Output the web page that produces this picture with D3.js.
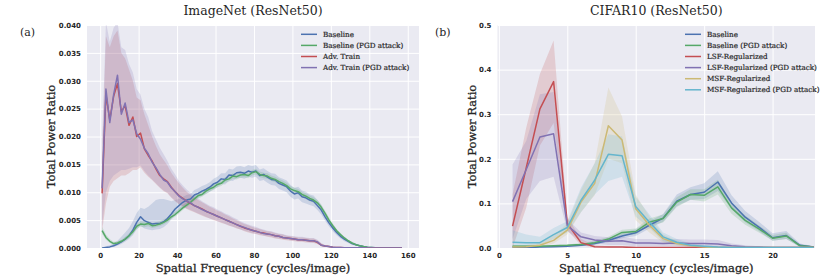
<!DOCTYPE html>
<html>
<head>
<meta charset="utf-8">
<script src="https://cdn.jsdelivr.net/npm/d3@7"></script>
<style>
body { margin: 0; background: #fff; }
</style>
</head>
<body>
<div id="chart"></div>
<script>
// ---- (a) ImageNet (ResNet50), every 2nd frequency, values in units of 1e-3 ----
var freqA = [1,3,5,7,9,11,13,15,17,19,
  21,23,25,27,29,31,33,35,37,39,
  41,43,45,47,49,51,53,55,57,59,
  61,63,65,67,69,71,73,75,77,79,
  81,83,85,87,89,91,93,95,97,99,
  101,103,105,107,109,111,113,115,117,119,
  121,123,125,127,129,131,133,135,137,139,
  141,143,145,147,149,151,153,155,157];

var baselineA = [0.0,0.1,0.2,0.4,0.7,1.1,1.6,2.2,3.2,4.6,
  5.6,4.9,4.6,4.3,4.4,4.4,4.7,5.3,6.1,7.0,
  7.6,8.2,8.6,8.8,9.5,9.8,10.2,10.5,10.9,11.5,
  11.8,12.4,12.3,13.1,13.0,13.5,13.6,13.4,13.8,13.6,
  13.8,13.0,13.2,12.7,12.3,12.2,11.6,11.3,11.0,10.2,
  9.7,9.9,9.2,9.0,8.6,8.4,7.6,6.8,5.6,4.5,
  3.6,2.8,2.1,1.6,1.2,0.8,0.6,0.4,0.25,0.15,
  0.1,0.05,0.03,0.02,0.01,0.01,0,0,0];
var baselineALo = [0,0.05,0.1,0.2,0.4,0.7,1.1,1.6,2.3,3.3,
  4.0,3.5,3.3,3.2,3.3,3.4,3.7,4.3,5.1,6.0,
  6.7,7.3,7.8,8.0,8.7,9.0,9.4,9.7,10.1,10.6,
  10.9,11.5,11.4,12.1,12.0,12.5,12.6,12.4,12.8,12.6,
  12.8,12.0,12.2,11.7,11.3,11.2,10.6,10.3,10.0,9.2,
  8.7,8.9,8.2,8.0,7.7,7.5,6.8,6.0,4.9,3.9,
  3.0,2.3,1.7,1.2,0.9,0.6,0.4,0.25,0.15,0.08,
  0.05,0.02,0.01,0,0,0,0,0,0];
var baselineAHi = [0.05,0.3,0.5,0.8,1.3,2.0,2.8,3.6,4.8,6.3,
  7.2,7.0,7.4,8.0,8.6,8.8,8.8,8.6,8.4,8.6,
  8.8,9.2,9.5,9.7,10.4,10.7,11.1,11.4,11.8,12.4,
  12.8,13.4,13.4,14.2,14.1,14.6,14.7,14.5,14.9,14.7,
  14.9,14.1,14.3,13.8,13.4,13.3,12.7,12.4,12.1,11.3,
  10.8,11.0,10.3,10.1,9.6,9.4,8.6,7.7,6.4,5.2,
  4.2,3.3,2.6,2.0,1.5,1.1,0.8,0.55,0.35,0.22,
  0.15,0.1,0.06,0.04,0.02,0.02,0.01,0.01,0.01];

var baselinePgdA = [3.1,1.9,1.2,0.8,0.9,1.2,1.6,2.2,2.9,3.9,
  4.3,4.2,4.4,4.0,4.1,4.3,4.6,5.0,5.6,6.0,
  6.6,7.2,7.7,8.2,8.8,9.4,9.6,10.2,10.6,10.9,
  11.4,11.6,12.2,12.4,12.9,12.8,13.1,13.2,13.0,13.5,
  13.7,13.2,13.0,12.9,12.5,12.3,11.9,11.6,11.2,10.6,
  10.3,10.1,9.6,9.3,8.9,8.6,8.1,7.3,6.2,5.0,
  4.0,3.1,2.4,1.8,1.3,0.9,0.6,0.4,0.25,0.15,
  0.1,0.06,0.04,0.02,0.01,0.01,0,0,0];
var baselinePgdALo = [2.5,1.5,0.9,0.6,0.7,0.9,1.3,1.8,2.5,3.4,
  3.8,3.7,3.9,3.6,3.7,3.9,4.2,4.6,5.2,5.6,
  6.2,6.8,7.3,7.8,8.4,8.9,9.2,9.7,10.1,10.4,
  10.9,11.1,11.7,11.9,12.4,12.3,12.6,12.7,12.5,13.0,
  13.2,12.7,12.5,12.4,12.0,11.8,11.4,11.1,10.7,10.1,
  9.8,9.6,9.1,8.8,8.4,8.1,7.6,6.8,5.7,4.6,
  3.6,2.8,2.1,1.6,1.1,0.8,0.5,0.3,0.2,0.1,
  0.07,0.04,0.02,0.01,0,0,0,0,0];
var baselinePgdAHi = [3.8,2.4,1.6,1.1,1.2,1.5,2.0,2.6,3.4,4.4,
  4.8,4.7,4.9,4.5,4.6,4.8,5.1,5.5,6.1,6.5,
  7.1,7.7,8.2,8.7,9.3,9.9,10.1,10.7,11.1,11.4,
  11.9,12.1,12.7,12.9,13.4,13.3,13.6,13.7,13.5,14.0,
  14.2,13.7,13.5,13.4,13.0,12.8,12.4,12.1,11.7,11.1,
  10.8,10.6,10.1,9.8,9.4,9.1,8.6,7.8,6.7,5.5,
  4.4,3.4,2.7,2.0,1.5,1.0,0.7,0.5,0.3,0.2,
  0.13,0.08,0.06,0.03,0.02,0.02,0.01,0.01,0.01];

var advA = [9.8,27.5,23.0,27.2,29.5,24.5,25.5,22.0,23.5,20.0,
  20.6,17.8,16.6,15.6,14.2,13.0,12.4,11.9,10.9,10.1,
  9.4,8.9,8.4,8.0,7.6,7.3,7.0,6.6,6.3,6.0,
  5.7,5.4,5.1,4.8,4.5,4.2,3.9,3.6,3.4,3.2,
  3.0,2.8,2.7,2.5,2.4,2.2,2.1,1.9,1.8,1.7,
  1.6,1.5,1.5,1.4,1.3,1.3,1.0,0.5,0.35,0.25,
  0.15,0.1,0.08,0.06,0.05,0.04,0.04,0.03,0.03,0.02,
  0.02,0.02,0.01,0.01,0.01,0.01,0,0,0];
var advALo = [3.0,8.0,11.0,12.0,12.5,13.0,13.0,13.4,14.0,14.0,
  14.5,13.5,12.8,12.2,11.5,10.8,10.2,9.8,9.0,8.4,
  7.8,7.4,7.0,6.7,6.4,6.1,5.8,5.5,5.3,5.0,
  4.8,4.5,4.3,4.0,3.8,3.5,3.3,3.0,2.8,2.6,
  2.5,2.3,2.2,2.0,1.9,1.7,1.6,1.5,1.4,1.3,
  1.2,1.1,1.1,1.0,1.0,0.9,0.7,0.3,0.2,0.15,
  0.1,0.06,0.05,0.04,0.03,0.02,0.02,0.02,0.01,0.01,
  0.01,0.01,0,0,0,0,0,0,0];
var advAHi = [17,38,36,38,39,35,34,32,30,27,
  26.5,24,22,20,18.3,16.8,15.8,14.8,13.5,12.5,
  11.6,10.8,10.1,9.5,9.0,8.6,8.2,7.8,7.4,7.1,
  6.7,6.4,6.0,5.7,5.3,5.0,4.6,4.3,4.1,3.8,
  3.6,3.4,3.2,3.0,2.9,2.7,2.5,2.4,2.2,2.1,
  2.0,1.9,1.9,1.8,1.7,1.7,1.4,0.8,0.5,0.35,
  0.25,0.18,0.14,0.1,0.08,0.07,0.06,0.05,0.05,0.04,
  0.04,0.03,0.03,0.02,0.02,0.02,0.01,0.01,0.01];

var advPgdA = [10.7,28.5,22.5,27.5,31.0,24.0,26.0,22.5,23.0,20.5,
  19.5,17.9,16.9,15.4,14.4,13.2,12.2,11.8,10.8,10.1,
  9.3,8.8,8.4,8.1,7.6,7.3,6.9,6.6,6.3,6.0,
  5.7,5.4,5.1,4.8,4.5,4.2,3.9,3.7,3.4,3.2,
  3.0,2.8,2.6,2.5,2.4,2.2,2.1,1.9,1.8,1.7,
  1.6,1.5,1.5,1.4,1.3,1.3,1.1,0.5,0.35,0.25,
  0.15,0.1,0.08,0.06,0.05,0.04,0.04,0.03,0.03,0.02,
  0.02,0.02,0.01,0.01,0.01,0.01,0,0,0];
var advPgdALo = [4.0,10.0,12.0,13.0,13.5,14.0,14.0,14.2,14.5,14.5,
  14.8,13.8,13.0,12.3,11.6,10.9,10.3,9.9,9.1,8.5,
  7.9,7.5,7.1,6.8,6.5,6.2,5.9,5.6,5.3,5.1,
  4.8,4.6,4.3,4.1,3.8,3.6,3.3,3.1,2.9,2.7,
  2.5,2.4,2.2,2.1,2.0,1.8,1.7,1.6,1.5,1.4,
  1.3,1.2,1.2,1.1,1.0,1.0,0.8,0.35,0.25,0.18,
  0.1,0.07,0.05,0.04,0.03,0.03,0.02,0.02,0.01,0.01,
  0.01,0.01,0,0,0,0,0,0,0];
var advPgdAHi = [19.0,40.5,37.0,39.5,40.5,36.0,35.5,33.0,31.5,28.5,
  27.5,25.0,23.5,21.0,19.5,18.0,16.8,15.6,14.2,13.2,
  12.0,11.2,10.5,9.9,9.3,8.9,8.4,8.0,7.6,7.3,
  6.9,6.6,6.2,5.9,5.5,5.2,4.8,4.5,4.2,4.0,
  3.8,3.5,3.3,3.1,3.0,2.8,2.6,2.5,2.3,2.2,
  2.1,2.0,2.0,1.9,1.8,1.8,1.5,0.9,0.55,0.4,
  0.28,0.2,0.15,0.11,0.09,0.07,0.06,0.05,0.05,0.04,
  0.04,0.03,0.03,0.02,0.02,0.02,0.01,0.01,0.01];

var labelsA = ['Baseline', 'Baseline (PGD attack)', 'Adv. Train', 'Adv. Train (PGD attack)'];
var xTicksA = [0, 20, 40, 60, 80, 100, 120, 140, 160];
var yTicksA = [0, 0.005, 0.010, 0.015, 0.020, 0.025, 0.030, 0.035, 0.040];

// ---- (b) CIFAR10 (ResNet50) ----
var freqB = [1,2,3,4,5,6,7,8,9,10,11,12,13,14,15,16,17,18,19,20,21,22,23];

var baselineB    = [0.001,0.001,0.002,0.003,0.004,0.006,0.010,0.017,0.027,0.034,0.051,0.067,0.105,0.120,0.125,0.148,0.101,0.069,0.047,0.023,0.028,0.006,0.002];
var baselineBLo  = [0,0,0.001,0.002,0.003,0.004,0.007,0.013,0.022,0.027,0.044,0.059,0.094,0.108,0.110,0.128,0.087,0.058,0.038,0.016,0.020,0.002,0];
var baselineBHi  = [0.002,0.003,0.004,0.005,0.006,0.009,0.014,0.022,0.033,0.042,0.060,0.076,0.120,0.136,0.145,0.172,0.118,0.083,0.059,0.033,0.038,0.010,0.004];

var baselinePgdB   = [0.004,0.004,0.004,0.005,0.006,0.008,0.012,0.020,0.035,0.037,0.058,0.066,0.103,0.120,0.118,0.137,0.090,0.062,0.043,0.022,0.027,0.005,0.002];
var baselinePgdBLo = [0.002,0.002,0.002,0.003,0.004,0.005,0.008,0.015,0.029,0.030,0.050,0.057,0.092,0.108,0.104,0.120,0.077,0.052,0.035,0.016,0.020,0.002,0];
var baselinePgdBHi = [0.006,0.006,0.006,0.007,0.008,0.011,0.016,0.025,0.041,0.044,0.066,0.075,0.114,0.132,0.132,0.153,0.103,0.073,0.051,0.029,0.034,0.008,0.004];

var lsfB   = [0.049,0.180,0.312,0.373,0.055,0.012,0.003,0.002,0.002,0.001,0.001,0.001,0.001,0.001,0.001,0.001,0.001,0.001,0.001,0.001,0.001,0.001,0.001];
var lsfBLo = [0.0,0.09,0.23,0.28,0.04,0.006,0.001,0.001,0.001,0,0,0,0,0,0,0,0,0,0,0,0,0,0];
var lsfBHi = [0.12,0.27,0.39,0.465,0.07,0.02,0.006,0.004,0.003,0.002,0.002,0.002,0.002,0.002,0.002,0.002,0.002,0.002,0.002,0.002,0.002,0.002,0.002];

var lsfPgdB   = [0.104,0.176,0.249,0.256,0.050,0.025,0.018,0.015,0.016,0.011,0.011,0.010,0.011,0.010,0.010,0.009,0.005,0.003,0.002,0.001,0.001,0.001,0.001];
var lsfPgdBLo = [0.02,0.11,0.15,0.16,0.038,0.015,0.010,0.007,0.007,0.004,0.004,0.004,0.004,0.003,0.003,0.003,0.001,0.001,0,0,0,0,0];
var lsfPgdBHi = [0.187,0.24,0.345,0.35,0.065,0.035,0.027,0.024,0.025,0.020,0.020,0.019,0.020,0.019,0.019,0.018,0.010,0.006,0.004,0.002,0.002,0.002,0.002];

var msfB   = [0.002,0.003,0.006,0.017,0.040,0.103,0.145,0.274,0.242,0.088,0.051,0.021,0.010,0.005,0.002,0.001,0.001,0.001,0.001,0.001,0.001,0.001,0.001];
var msfBLo = [0,0,0.002,0.010,0.030,0.080,0.118,0.200,0.190,0.062,0.035,0.012,0.005,0.002,0.001,0,0,0,0,0,0,0,0];
var msfBHi = [0.006,0.007,0.011,0.028,0.055,0.130,0.190,0.360,0.295,0.120,0.070,0.030,0.016,0.008,0.004,0.002,0.002,0.002,0.002,0.002,0.002,0.002,0.002];

var msfPgdB   = [0.013,0.012,0.012,0.030,0.046,0.107,0.152,0.210,0.207,0.093,0.058,0.025,0.013,0.006,0.004,0.002,0.001,0.001,0.001,0.001,0.001,0.001,0.001];
var msfPgdBLo = [-0.012,0.0,0.005,0.020,0.035,0.080,0.120,0.150,0.160,0.070,0.045,0.015,0.007,0.003,0.002,0.001,0,0,0,0,0,0,0];
var msfPgdBHi = [0.040,0.030,0.025,0.045,0.060,0.135,0.190,0.255,0.250,0.115,0.075,0.035,0.020,0.010,0.006,0.004,0.002,0.002,0.002,0.002,0.002,0.002,0.002];

var labelsB = ['Baseline', 'Baseline (PGD attack)', 'LSF-Regularized', 'LSF-Regularized (PGD attack)', 'MSF-Regularized', 'MSF-Regularized (PGD attack)'];
var xTicksB = [0, 5, 10, 15, 20];
var yTicksB = [0, 0.1, 0.2, 0.3, 0.4, 0.5];

var colors = ['#4C72B0', '#55A868', '#C44E52', '#8172B2', '#CCB974', '#64B5CD'];

var svg = d3.select('#chart').append('svg')
    .attr('width', 830)
    .attr('height', 275);

var serif = '"DejaVu Serif", serif';

function panel(cfg) {
  var x = d3.scaleLinear().domain(cfg.xDomain).range([cfg.left, cfg.right]);
  var y = d3.scaleLinear().domain(cfg.yDomain).range([cfg.bottom, cfg.top]);
  var k = cfg.unit;

  var g = svg.append('g');

  g.append('rect')
    .attr('x', cfg.left).attr('y', cfg.top)
    .attr('width', cfg.right - cfg.left).attr('height', cfg.bottom - cfg.top)
    .attr('fill', '#EAEAF2');

  g.append('clipPath').attr('id', cfg.id)
    .append('rect')
    .attr('x', cfg.left).attr('y', cfg.top)
    .attr('width', cfg.right - cfg.left).attr('height', cfg.bottom - cfg.top);

  // white grid
  g.append('g')
    .attr('transform', 'translate(0,' + cfg.bottom + ')')
    .call(d3.axisBottom(x).tickValues(cfg.xTicks).tickSize(-(cfg.bottom - cfg.top)).tickFormat(''))
    .call(function (s) { s.select('.domain').remove(); s.selectAll('line').attr('stroke', '#fff').attr('stroke-width', 1); });
  g.append('g')
    .attr('transform', 'translate(' + cfg.left + ',0)')
    .call(d3.axisLeft(y).tickValues(cfg.yTicks).tickSize(-(cfg.right - cfg.left)).tickFormat(''))
    .call(function (s) { s.select('.domain').remove(); s.selectAll('line').attr('stroke', '#fff').attr('stroke-width', 1); });

  // tick labels
  var xa = g.append('g')
    .attr('transform', 'translate(0,' + cfg.bottom + ')')
    .call(d3.axisBottom(x).tickValues(cfg.xTicks).tickSize(0).tickPadding(5).tickFormat(d3.format('d')));
  var ya = g.append('g')
    .attr('transform', 'translate(' + cfg.left + ',0)')
    .call(d3.axisLeft(y).tickValues(cfg.yTicks).tickSize(0).tickPadding(6).tickFormat(d3.format(cfg.yFormat)));
  [xa, ya].forEach(function (a) {
    a.select('.domain').remove();
    a.selectAll('text')
      .attr('font-family', '"DejaVu Sans", sans-serif')
      .attr('font-size', 7)
      .attr('font-weight', 'bold')
      .attr('fill', '#262626');
  });

  var plot = g.append('g').attr('clip-path', 'url(#' + cfg.id + ')');

  var area = d3.area()
    .x(function (d) { return x(d.f); })
    .y0(function (d) { return y(d.lo * k); })
    .y1(function (d) { return y(d.hi * k); });
  var line = d3.line()
    .x(function (d) { return x(d.f); })
    .y(function (d) { return y(d.v * k); });

  var rows = cfg.series.map(function (s) {
    return cfg.freq.map(function (f, i) { return { f: f, v: s.mean[i], lo: s.lo[i], hi: s.hi[i] }; });
  });

  plot.selectAll('path.band')
    .data(rows)
    .enter().append('path')
    .attr('class', 'band')
    .attr('d', area)
    .attr('fill', function (d, i) { return colors[i]; })
    .attr('fill-opacity', 0.2);

  plot.selectAll('path.line')
    .data(rows)
    .enter().append('path')
    .attr('class', 'line')
    .attr('d', line)
    .attr('fill', 'none')
    .attr('stroke', function (d, i) { return colors[i]; })
    .attr('stroke-width', 1.5)
    .attr('stroke-linejoin', 'round');

  // legend
  var lg = g.append('g');
  cfg.labels.forEach(function (lab, i) {
    var yy = cfg.legend.y + i * cfg.legend.dy;
    lg.append('line')
      .attr('x1', cfg.legend.x).attr('x2', cfg.legend.x + 16)
      .attr('y1', yy).attr('y2', yy)
      .attr('stroke', colors[i]).attr('stroke-width', 1.5);
    lg.append('text')
      .attr('x', cfg.legend.x + 22).attr('y', yy)
      .attr('dy', '0.35em')
      .attr('font-family', serif)
      .attr('font-size', 7.2)
      .attr('fill', '#262626')
      .attr('stroke', '#262626').attr('stroke-width', 0.2)
      .text(lab);
  });

  // title, panel tag and axis labels
  g.append('text')
    .attr('x', (cfg.left + cfg.right) / 2).attr('y', 15)
    .attr('text-anchor', 'middle')
    .attr('font-family', serif).attr('font-size', 12.5)
    .attr('fill', '#262626')
    .text(cfg.title);
  g.append('text')
    .attr('x', cfg.tagX).attr('y', 36)
    .attr('font-family', serif).attr('font-size', 11)
    .attr('fill', '#262626')
    .text(cfg.tag);
  g.append('text')
    .attr('x', (cfg.left + cfg.right) / 2).attr('y', 272)
    .attr('text-anchor', 'middle')
    .attr('font-family', serif).attr('font-size', 11.5)
    .attr('fill', '#262626')
    .attr('stroke', '#262626').attr('stroke-width', 0.3)
    .text('Spatial Frequency (cycles/image)');
  g.append('text')
    .attr('transform', 'translate(' + cfg.yLabelX + ',' + (cfg.top + cfg.bottom) / 2 + ') rotate(-90)')
    .attr('text-anchor', 'middle')
    .attr('font-family', serif).attr('font-size', 11.5)
    .attr('fill', '#262626')
    .attr('stroke', '#262626').attr('stroke-width', 0.3)
    .text('Total Power Ratio');
}

panel({
  id: 'clipA', title: 'ImageNet (ResNet50)', tag: '(a)', tagX: 20, yLabelX: 55,
  left: 87, right: 419, top: 25, bottom: 248,
  xDomain: [-6.85, 165.85], yDomain: [0, 0.04], unit: 1e-3,
  xTicks: xTicksA, yTicks: yTicksA, yFormat: '.3f',
  freq: freqA, labels: labelsA,
  legend: { x: 301, y: 34.3, dy: 11.1 },
  series: [
    { mean: baselineA, lo: baselineALo, hi: baselineAHi },
    { mean: baselinePgdA, lo: baselinePgdALo, hi: baselinePgdAHi },
    { mean: advA, lo: advALo, hi: advAHi },
    { mean: advPgdA, lo: advPgdALo, hi: advPgdAHi }
  ]
});

panel({
  id: 'clipB', title: 'CIFAR10 (ResNet50)', tag: '(b)', tagX: 435, yLabelX: 476,
  left: 497.5, right: 815, top: 25, bottom: 248,
  xDomain: [-0.1, 23.1], yDomain: [0, 0.5], unit: 1,
  xTicks: xTicksB, yTicks: yTicksB, yFormat: '.1f',
  freq: freqB, labels: labelsB,
  legend: { x: 685, y: 34.3, dy: 11.1 },
  series: [
    { mean: baselineB, lo: baselineBLo, hi: baselineBHi },
    { mean: baselinePgdB, lo: baselinePgdBLo, hi: baselinePgdBHi },
    { mean: lsfB, lo: lsfBLo, hi: lsfBHi },
    { mean: lsfPgdB, lo: lsfPgdBLo, hi: lsfPgdBHi },
    { mean: msfB, lo: msfBLo, hi: msfBHi },
    { mean: msfPgdB, lo: msfPgdBLo, hi: msfPgdBHi }
  ]
});
</script>
</body>
</html>
